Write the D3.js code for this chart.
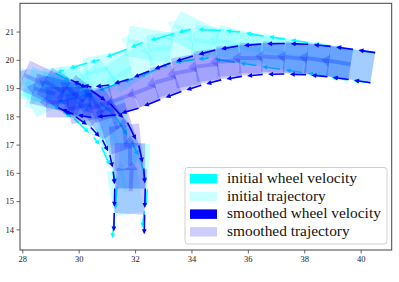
<html>
<script src='https://d3js.org/d3.v7.min.js'></script>
<head>
<style>
  body {margin: 0; background: white;}
  svg {display: block;}
  text {font-family: 'Liberation Serif', 'Times New Roman', serif;}
</style>
</head>
<body>
<svg width=399 height=282></svg>
<script>
// initial trajectory poses (x, y, heading in degrees)
var initX = [40.43, 39.63, 38.83, 38.03, 37.23, 36.43, 35.63, 34.83, 34.05, 33.30, 32.55, 31.82, 31.10, 30.38, 29.70, 29.10,
             29.65, 30.30, 30.90, 31.35, 31.70, 31.90, 31.80];
var initY = [19.72, 19.82, 19.95, 20.08, 20.20, 20.32, 20.45, 20.55, 20.55, 20.40, 20.15, 19.85, 19.60, 19.35, 19.15, 19.00,
             18.65, 18.20, 17.65, 17.00, 16.25, 15.45, 14.55];
var initTheta = [171, 169, 172, 168, 171, 166, 170, 155, 188, 170, 212, 192, 222, 188, 206, 172,
                 158, 122, 138, 100, 112, 86, 100];

// smoothed trajectory poses
var smoothX = [40.43, 39.65, 38.88, 38.10, 37.30, 36.50, 35.72, 34.95, 34.20, 33.45, 32.70, 31.95, 31.20, 30.45, 29.95, 29.50,
               30.17, 30.78, 31.29, 31.62, 31.77, 31.82, 31.80];
var smoothY = [19.72, 19.84, 19.94, 20.01, 20.04, 20.02, 19.95, 19.82, 19.62, 19.38, 19.10, 18.80, 18.58, 18.50, 18.60, 18.80,
               18.45, 18.02, 17.47, 16.80, 16.10, 15.45, 14.55];
var smoothTheta = [171, 172, 174, 176, 179, 183, 187, 191, 196, 201, 201, 199, 192, 180, 166, 155,
                   150, 140, 125, 108, 96, 90, 87];

var xTicks = [28, 30, 32, 34, 36, 38, 40];
var yTicks = [14, 15, 16, 17, 18, 19, 20, 21];
var legendLabels = ["initial wheel velocity", "initial trajectory", "smoothed wheel velocity", "smoothed trajectory"];
var legendColors = ["#00ffff", "rgba(0,255,255,0.2)", "#0000ff", "rgba(0,0,255,0.2)"];

var robotW = 1.08;   // wheel base
var robotL = 1.6;    // footprint length ahead of the axle
var velScale = 0.75;

var svg = d3.select("svg");
var x = d3.scaleLinear().domain([27.92, 41.1]).range([20, 391.7]);
var y = d3.scaleLinear().domain([13.27, 22]).range([250, 3.3]);

svg.append("defs").append("clipPath").attr("id", "clip")
  .append("rect").attr("x", 20).attr("y", 3.3).attr("width", 371.7).attr("height", 246.7);

function makePoses(xs, ys, ths) {
  return xs.map(function(d, i) {
    var t = ths[i] * Math.PI / 180;
    var f = [Math.cos(t), Math.sin(t)], n = [-Math.sin(t), Math.cos(t)];
    return {
      c: [d, ys[i]], f: f,
      lw: [d + n[0] * robotW / 2, ys[i] + n[1] * robotW / 2],
      rw: [d - n[0] * robotW / 2, ys[i] - n[1] * robotW / 2]
    };
  });
}

function px(p) { return [x(p[0]), y(p[1])]; }

function footprint(p) {
  var a = p.lw, b = p.rw;
  var c = [b[0] + p.f[0] * robotL, b[1] + p.f[1] * robotL];
  var e = [a[0] + p.f[0] * robotL, a[1] + p.f[1] * robotL];
  return [a, b, c, e].map(px).join(" ");
}

// arrow outline in pixel space
function arrowPath(x0, y0, x1, y1, hl, hw, sw) {
  var dx = x1 - x0, dy = y1 - y0, len = Math.sqrt(dx * dx + dy * dy);
  if (len < 0.5) return "";
  hl = Math.min(hl, len * 0.6);
  var ux = dx / len, uy = dy / len;
  var bx = x1 - ux * hl, by = y1 - uy * hl;
  var pts = [[x0 - uy * sw, y0 + ux * sw], [bx - uy * sw, by + ux * sw], [bx - uy * hw, by + ux * hw], [x1, y1],
             [bx + uy * hw, by - ux * hw], [bx + uy * sw, by - ux * sw], [x0 + uy * sw, y0 - ux * sw]];
  return "M" + pts.join("L") + "Z";
}

var plot = svg.append("g").attr("clip-path", "url(#clip)");

function drawTrajectory(poses, color, fatAlpha) {
  var g = plot.append("g");
  g.selectAll("polygon").data(poses).enter().append("polygon")
    .attr("points", footprint)
    .attr("fill", color).attr("fill-opacity", 0.2);

  g.selectAll("path.heading").data(poses).enter().append("path")
    .attr("class", "heading")
    .attr("d", function(p) {
      var s = [p.c[0] + p.f[0] * robotL / 2, p.c[1] + p.f[1] * robotL / 2];
      var e = [s[0] + p.f[0] * 1.05, s[1] + p.f[1] * 1.05];
      return arrowPath(x(s[0]), y(s[1]), x(e[0]), y(e[1]), 8, 6, 2);
    })
    .attr("fill", color).attr("fill-opacity", fatAlpha);

  var arrows = [];
  poses.forEach(function(p, i) {
    var a = i < poses.length - 1 ? i : i - 1, b = a + 1;
    ["lw", "rw"].forEach(function(k) {
      var v = [(poses[b][k][0] - poses[a][k][0]) * velScale, (poses[b][k][1] - poses[a][k][1]) * velScale];
      arrows.push([p[k], [p[k][0] + v[0], p[k][1] + v[1]]]);
    });
  });
  g.selectAll("path.wheel").data(arrows).enter().append("path")
    .attr("class", "wheel")
    .attr("d", function(d) { return arrowPath(x(d[0][0]), y(d[0][1]), x(d[1][0]), y(d[1][1]), 5, 2.4, 0.8); })
    .attr("fill", color);
}

drawTrajectory(makePoses(initX, initY, initTheta), "#00ffff", 0.15);
drawTrajectory(makePoses(smoothX, smoothY, smoothTheta), "#0000ff", 0.2);

// axes
var xaxis = svg.append("g").attr("transform", "translate(0,250)")
  .call(d3.axisBottom(x).tickValues(xTicks).tickSize(3.5).tickPadding(2));
var yaxis = svg.append("g").attr("transform", "translate(20,0)")
  .call(d3.axisLeft(y).tickValues(yTicks).tickSize(3.5).tickPadding(2.5));
[xaxis, yaxis].forEach(function(a) {
  a.select(".domain").remove();
  a.selectAll("line").attr("stroke", "#444").attr("stroke-width", 0.8);
  a.selectAll("text").attr("font-size", 8.5).attr("fill", "#222")
    .style("font-family", "'Liberation Serif', serif");
});
svg.append("rect").attr("x", 20).attr("y", 3.3).attr("width", 371.7).attr("height", 246.7)
  .attr("fill", "none").attr("stroke", "#444").attr("stroke-width", 1);

// legend
var legend = svg.append("g").attr("transform", "translate(185,167.5)");
legend.append("rect").attr("width", 202).attr("height", 76.5).attr("rx", 3)
  .attr("fill", "white").attr("fill-opacity", 0.8).attr("stroke", "#d0d0d0");
var rows = legend.selectAll("g.row").data(legendLabels).enter().append("g")
  .attr("transform", function(d, i) { return "translate(0," + (11 + i * 17.7) + ")"; });
rows.append("rect").attr("x", 5).attr("y", -4.5).attr("width", 27).attr("height", 9.5)
  .attr("fill", function(d, i) { return legendColors[i]; });
rows.append("text").attr("x", 42).attr("y", 4.5).attr("font-size", 15.4)
  .attr("fill", "#111").text(function(d) { return d; });
</script>
</body>
</html>
